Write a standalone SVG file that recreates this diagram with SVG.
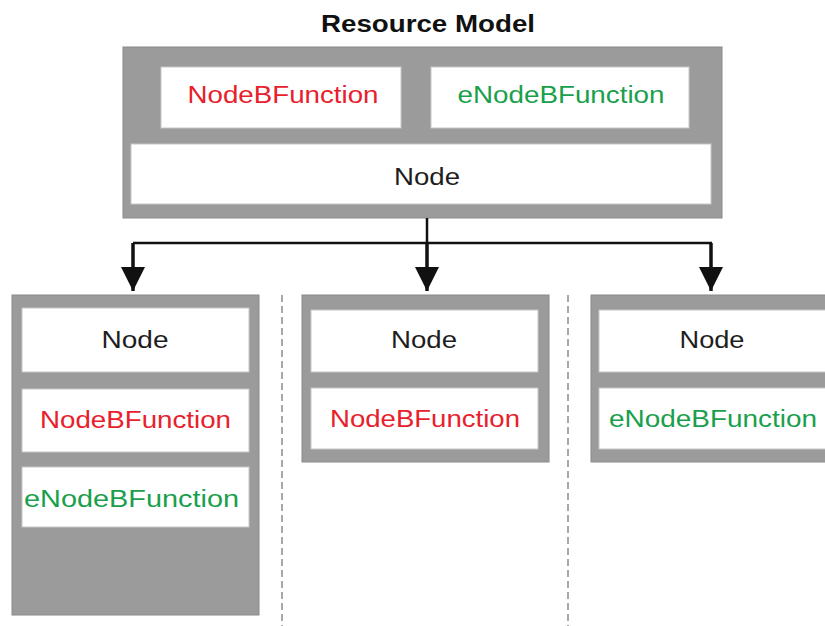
<svg xmlns="http://www.w3.org/2000/svg" width="825" height="626" viewBox="0 0 825 626">
<style>
.outer{fill:#9b9b9b;stroke:#8a8a8a;stroke-width:1}
.inner{fill:#ffffff;stroke:#c8c8c8;stroke-width:1}
.t{font-family:"Liberation Sans",Arial,sans-serif;font-size:23.5px;text-anchor:middle}
.blk{fill:#1e1e1e}
.red{fill:#e8202c}
.grn{fill:#1a9f4c}
.title{font-family:"Liberation Sans",Arial,sans-serif;font-size:23.5px;font-weight:bold;text-anchor:middle;fill:#111}
.wire{fill:none;stroke:#111;stroke-width:2.5}
.stem{fill:none;stroke:#111;stroke-width:3.5}
.dash{fill:none;stroke:#a8a8a8;stroke-width:2;stroke-dasharray:7,4}
</style>
<defs>
<marker id="ah" markerUnits="userSpaceOnUse" markerWidth="24" markerHeight="24" viewBox="0 0 24 24" refX="24" refY="12" orient="auto">
<polygon points="0,0 24,12 0,24" fill="#111"/>
</marker>
</defs>
<rect width="825" height="626" fill="#ffffff"/>
<text class="title" x="428" y="32" textLength="214" lengthAdjust="spacingAndGlyphs">Resource Model</text>

<g id="resource-model">
<rect class="outer" x="123" y="47" width="599" height="171"/>
<g id="rm-nodebfunction">
<rect class="inner" x="161" y="67" width="240" height="61"/>
<text class="t red" x="283" y="103" textLength="191" lengthAdjust="spacingAndGlyphs">NodeBFunction</text>
</g>
<g id="rm-enodebfunction">
<rect class="inner" x="431" y="67" width="258" height="61"/>
<text class="t grn" x="561" y="103" textLength="207" lengthAdjust="spacingAndGlyphs">eNodeBFunction</text>
</g>
<g id="rm-node">
<rect class="inner" x="131" y="144" width="580" height="60"/>
<text class="t blk" x="427" y="185" textLength="66" lengthAdjust="spacingAndGlyphs">Node</text>
</g>
</g>

<g id="connectors">
<path class="wire" d="M427,218 V243 M133,243 H712"/>
<path class="stem" d="M133,243 V291" marker-end="url(#ah)"/>
<path class="stem" d="M427,243 V291" marker-end="url(#ah)"/>
<path class="stem" d="M711,243 V291" marker-end="url(#ah)"/>
<line class="dash" x1="282" y1="295" x2="282" y2="626"/>
<line class="dash" x1="568" y1="295" x2="568" y2="626"/>
</g>

<g id="case-left">
<rect class="outer" x="12" y="295" width="247" height="320"/>
<g id="left-node">
<rect class="inner" x="22" y="308" width="227" height="64"/>
<text class="t blk" x="135" y="348" textLength="67" lengthAdjust="spacingAndGlyphs">Node</text>
</g>
<g id="left-nodebfunction">
<rect class="inner" x="22" y="389" width="227" height="63"/>
<text class="t red" x="135.5" y="428" textLength="191" lengthAdjust="spacingAndGlyphs">NodeBFunction</text>
</g>
<g id="left-enodebfunction">
<rect class="inner" x="22" y="467" width="227" height="60"/>
<text class="t grn" x="131.5" y="507" textLength="215" lengthAdjust="spacingAndGlyphs">eNodeBFunction</text>
</g>
</g>

<g id="case-middle">
<rect class="outer" x="302" y="295" width="247" height="167"/>
<g id="mid-node">
<rect class="inner" x="311" y="310" width="227" height="62"/>
<text class="t blk" x="424" y="348" textLength="66" lengthAdjust="spacingAndGlyphs">Node</text>
</g>
<g id="mid-nodebfunction">
<rect class="inner" x="311" y="388" width="227" height="61"/>
<text class="t red" x="425" y="427" textLength="190" lengthAdjust="spacingAndGlyphs">NodeBFunction</text>
</g>
</g>

<g id="case-right">
<rect class="outer" x="591" y="295" width="250" height="167"/>
<g id="right-node">
<rect class="inner" x="599" y="310" width="240" height="62"/>
<text class="t blk" x="712" y="348" textLength="65" lengthAdjust="spacingAndGlyphs">Node</text>
</g>
<g id="right-enodebfunction">
<rect class="inner" x="599" y="388" width="240" height="61"/>
<text class="t grn" x="713" y="427" textLength="208" lengthAdjust="spacingAndGlyphs">eNodeBFunction</text>
</g>
</g>
</svg>
